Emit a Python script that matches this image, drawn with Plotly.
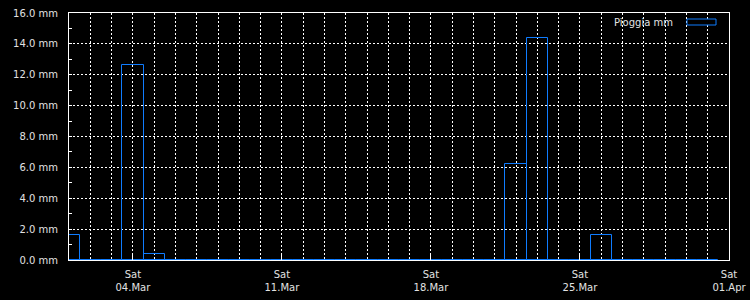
import plotly.graph_objects as go
import pandas as pd

# Daily rainfall (mm), bars centred on each day at midnight
dates = pd.date_range("2023-03-01", "2023-03-31", freq="D").strftime("%Y-%m-%d").tolist()
rain_mm = [1.6, 0, 0, 12.6, 0.4, 0, 0, 0, 0, 0,
           0, 0, 0, 0, 0, 0, 0, 0, 0, 0,
           0, 6.2, 14.4, 0, 0, 1.6, 0, 0, 0, 0, 0]
series_name = "Pioggia mm"

BLUE = "#0f7cff"
TXT = "#e2e2e2"
FONT = dict(family="DejaVu Sans", size=10, color=TXT)

fig = go.Figure()
fig.add_trace(go.Bar(
    x=dates, y=rain_mm, width=86400000,
    marker=dict(color="rgba(0,0,0,0)", line=dict(color=BLUE, width=1)),
    name=series_name, showlegend=False,
))

fig.update_layout(
    width=750, height=300,
    margin=dict(l=69, r=21, t=13, b=40, autoexpand=False),
    paper_bgcolor="black", plot_bgcolor="black",
    font=FONT, bargap=0, bargroupgap=0,
    xaxis=dict(
        type="date", range=["2023-03-01", "2023-04-01"],
        tick0="2023-03-04", dtick=7 * 86400000,
        tickformat="%a<br>%d.%b",
        ticks="inside", ticklen=6, tickcolor="white",
        showline=True, linecolor="white", linewidth=1, mirror=True,
        showgrid=True, gridcolor="white", griddash="2px,2px", gridwidth=1,
        minor=dict(dtick=86400000, tick0="2023-03-01", showgrid=True,
                   gridcolor="white", griddash="2px,2px", gridwidth=1),
        zeroline=False, tickfont=FONT, automargin=False, layer="above traces",
        ticklabelstandoff=5,
    ),
    yaxis=dict(
        range=[0, 16], dtick=2, tickformat=".1f", ticksuffix=" mm",
        ticks="inside", ticklen=3, tickcolor="white",
        showline=True, linecolor="white", linewidth=1, mirror=True,
        showgrid=True, gridcolor="white", griddash="2px,2px", gridwidth=1,
        minor=dict(dtick=1, ticks="inside", ticklen=3, tickcolor="white", showgrid=False),
        zeroline=False, tickfont=FONT, ticklabelstandoff=8, automargin=False,
    ),
)

# Legend (text then swatch on the right, as in the reference)
fig.add_annotation(xref="paper", yref="paper", x=(675 - 69) / 660, y=(260 - 22) / 247,
                   xanchor="right", yanchor="middle", text=series_name,
                   showarrow=False, font=FONT)
fig.add_shape(type="rect", xref="paper", yref="paper",
              x0=(687 - 69) / 660, x1=(716 - 69) / 660,
              y0=(260 - 25) / 247, y1=(260 - 19) / 247,
              line=dict(color=BLUE, width=1), fillcolor="black")

fig.write_html("out.html")
